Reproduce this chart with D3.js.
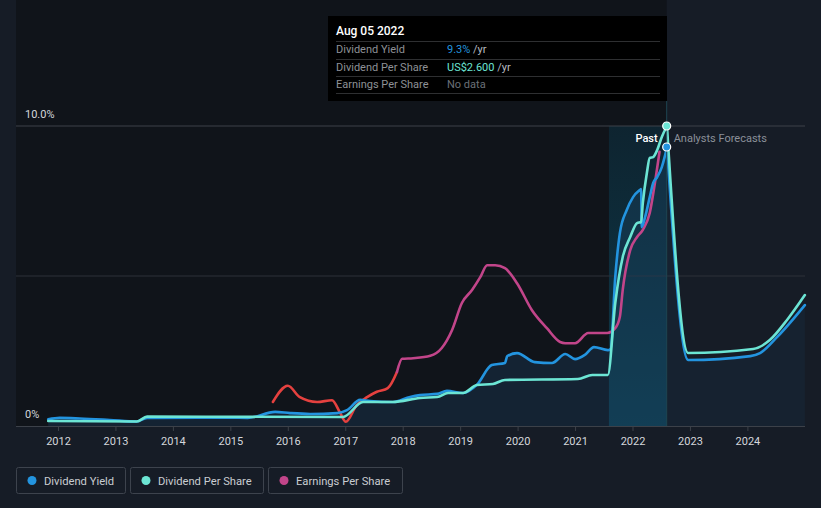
<!DOCTYPE html>
<html><head><meta charset="utf-8">
<script src="https://cdn.jsdelivr.net/npm/d3@7"></script>
<style>
html,body{margin:0;padding:0;background:#161c26;}
svg{display:block;font-family:Roboto,"Noto Sans",sans-serif;}
</style></head>
<body><svg id="c" width="821" height="508"></svg>
<script>
// ---- data (decimal years) ----
const tickYears = [2012,2013,2014,2015,2016,2017,2018,2019,2020,2021,2022,2023,2024];
const yLabels = ["0%","10.0%"];

const yieldYears = [2011.83,2012.03,2012.38,2012.9,2013.37,2013.55,2015.0,2015.3,2015.78,2016.04,2016.39,2016.86,2017.03,2017.26,2017.43,2017.83,2018.13,2018.3,2018.6,2018.77,2019.05,2019.29,2019.55,2019.78,2019.82,2019.99,2020.3,2020.6,2020.83,2021.0,2021.17,2021.33,2021.57,2021.62,2021.7,2021.78,2021.9,2022.01,2022.13,2022.15,2022.16,2022.22,2022.3,2022.36,2022.43,2022.51,2022.56,2022.6];
const yieldValues = [0.22,0.27,0.25,0.2,0.15,0.27,0.28,0.27,0.47,0.43,0.4,0.43,0.53,0.87,0.83,0.8,0.97,1.03,1.07,1.17,1.1,1.37,2.03,2.1,2.33,2.43,2.13,2.1,2.4,2.23,2.37,2.63,2.53,2.57,4.97,6.43,7.2,7.63,7.87,7.9,6.63,6.97,7.63,8.1,8.3,8.63,8.97,9.3];
const yieldFcYears = [2022.6,2022.97,2024.05,2024.22,2024.52,2025.0];
const yieldFcValues = [9.3,2.2,2.33,2.43,2.97,4.03];

const dpsYears = [2011.83,2013.37,2013.55,2016.96,2017.31,2017.83,2018.3,2018.6,2018.79,2019.05,2019.29,2019.57,2019.78,2021.05,2021.3,2021.57,2021.7,2021.83,2021.96,2022.08,2022.15,2022.18,2022.25,2022.3,2022.36,2022.43,2022.51,2022.6];
const dpsValues = [0.043,0.039,0.081,0.078,0.208,0.208,0.243,0.251,0.286,0.286,0.355,0.364,0.399,0.407,0.442,0.442,1.066,1.465,1.638,1.759,1.768,1.933,2.193,2.323,2.331,2.392,2.505,2.6];
const dpsFcYears = [2022.6,2022.97,2024.1,2024.39,2024.69,2025.0];
const dpsFcValues = [2.6,0.633,0.667,0.745,0.919,1.135];

const epsYears = [2015.74,2016.0,2016.21,2016.51,2016.77,2016.91,2017.01,2017.2,2017.38,2017.55,2017.74,2017.9,2017.99,2018.18,2018.48,2018.68,2018.86,2019.03,2019.21,2019.35,2019.47,2019.61,2019.78,2019.99,2020.25,2020.51,2020.74,2020.83,2021.0,2021.23,2021.56,2021.7,2021.78,2021.83,2021.96,2022.08,2022.18,2022.3,2022.39,2022.47];
const epsValues = [0.4,0.67,0.48,0.4,0.43,0.22,0.07,0.35,0.48,0.57,0.63,0.9,1.12,1.13,1.17,1.3,1.6,2.05,2.27,2.48,2.68,2.68,2.63,2.38,1.93,1.63,1.4,1.38,1.38,1.55,1.55,1.63,1.82,2.27,2.93,3.15,3.27,3.55,4.05,4.57];
const epsRedUntil = 2017.9;

const hoverYear = 2022.595;
const bandStart = 2021.59;

const legendItems = [
  {name:"Dividend Yield", color:"#2394df"},
  {name:"Dividend Per Share", color:"#6ce5d4"},
  {name:"Earnings Per Share", color:"#c2458a"}
];
const tooltipRows = [
  {label:"Dividend Yield", value:"9.3%", unit:" /yr", color:"#2394df"},
  {label:"Dividend Per Share", value:"US$2.600", unit:" /yr", color:"#6ce5d4"},
  {label:"Earnings Per Share", value:"No data", unit:"", color:"#6b7078"}
];

// ---- chart ----
const svg = d3.select("#c");
const L = 16, R = 805, T = 126, B = 426;
const x = d3.scaleLinear().domain([2012, 2024]).range([58, 747.4]);
const yY = d3.scaleLinear().domain([0, 10]).range([B, T]);
const yD = d3.scaleLinear().domain([0, 2.6]).range([B, T]);
const yE = d3.scaleLinear().domain([0, 5]).range([B, T]);

svg.append("rect").attr("width",821).attr("height",508).attr("fill","#161c26");
// dimmed past area
svg.append("rect").attr("x",L).attr("y",0).attr("width",x(hoverYear)-L).attr("height",B).attr("fill","#10141a");

// band gradient
const defs = svg.append("defs");
const g1 = defs.append("linearGradient").attr("id","band").attr("x1",0).attr("y1",0).attr("x2",0).attr("y2",1);
g1.append("stop").attr("offset","0%").attr("stop-color","#0e2430");
g1.append("stop").attr("offset","100%").attr("stop-color","#0d3a4b");
svg.append("rect").attr("x",x(bandStart)).attr("y",T).attr("width",x(hoverYear)-x(bandStart)).attr("height",B-T).attr("fill","url(#band)");

// grid
[5,10].forEach(v=>{
  svg.append("line").attr("x1",L).attr("x2",R).attr("y1",yY(v)).attr("y2",yY(v))
    .attr("stroke", v===10?"#3c4149":"#2c3139").attr("stroke-width",1);
});

// area under yield
const pastPts = yieldYears.map((d,i)=>[d,yieldValues[i]]);
const fcPts = yieldFcYears.map((d,i)=>[d,yieldFcValues[i]]);
const area = d3.area().x(d=>x(d[0])).y0(B).y1(d=>yY(d[1])).curve(d3.curveMonotoneX);
svg.append("path").attr("d",area(pastPts)).attr("fill","#1e4a6e").attr("opacity",0.3);
svg.append("path").attr("d",area(fcPts)).attr("fill","#1e4a6e").attr("opacity",0.15);

// x axis
const ax = svg.append("g").attr("transform",`translate(0,${B})`)
  .call(d3.axisBottom(x).tickValues(tickYears).tickFormat(d3.format("d")).tickSize(5).tickPadding(6));
ax.select(".domain").remove();
ax.selectAll(".tick line").attr("stroke","#3c4149");
ax.selectAll(".tick text").attr("fill","#d4d7dc").attr("font-size",11).attr("font-family","Roboto");
svg.append("line").attr("x1",L).attr("x2",R).attr("y1",B+0.5).attr("y2",B+0.5).attr("stroke","#3c4149");

// y labels
svg.append("text").attr("x",25).attr("y",yY(0)-8).attr("fill","#d4d7dc").attr("font-size",11).text(yLabels[0]);
svg.append("text").attr("x",25).attr("y",yY(10)-8).attr("fill","#d4d7dc").attr("font-size",11).text(yLabels[1]);

// lines
const line = (ys)=>d3.line().x(d=>x(d[0])).y(d=>ys(d[1])).curve(d3.curveMonotoneX);
function draw(pts, ys, color){
  svg.append("path").attr("d",line(ys)(pts)).attr("fill","none").attr("stroke",color)
    .attr("stroke-width",2.6).attr("stroke-linejoin","round").attr("stroke-linecap","round");
}
const epsPts = epsYears.map((d,i)=>[d,epsValues[i]]);
draw(epsPts.filter(d=>d[0]<=epsRedUntil), yE, "#e5413f");
draw(epsPts.filter(d=>d[0]>=epsRedUntil), yE, "#c2458a");
draw(pastPts, yY, "#2394df");
draw(fcPts, yY, "#2394df");
const dpsPts = dpsYears.map((d,i)=>[d,dpsValues[i]]);
const dpsFc = dpsFcYears.map((d,i)=>[d,dpsFcValues[i]]);
draw(dpsPts, yD, "#6ce5d4");
draw(dpsFc, yD, "#6ce5d4");

// hover line
svg.append("line").attr("x1",x(hoverYear)).attr("x2",x(hoverYear)).attr("y1",101).attr("y2",B)
  .attr("stroke","#1f4652").attr("stroke-width",1);

// Past / forecasts labels
svg.append("text").attr("x",x(hoverYear)-9).attr("y",142).attr("text-anchor","end")
  .attr("fill","#ffffff").attr("font-size",11).attr("font-weight",500).text("Past");
svg.append("text").attr("x",x(hoverYear)+7).attr("y",142)
  .attr("fill","#8b9099").attr("font-size",11).text("Analysts Forecasts");

// hover dots
svg.append("circle").attr("cx",x(hoverYear)).attr("cy",yD(2.6)).attr("r",4).attr("fill","#6ce5d4").attr("stroke","#fff").attr("stroke-width",1.2);
svg.append("circle").attr("cx",x(hoverYear)).attr("cy",yY(9.3)).attr("r",4).attr("fill","#2394df").attr("stroke","#fff").attr("stroke-width",1.2);

// tooltip
const tt = svg.append("g");
tt.append("rect").attr("x",328).attr("y",16).attr("width",339).attr("height",85).attr("fill","#000");
tt.append("text").attr("x",336).attr("y",35).attr("fill","#fff").attr("font-size",12).attr("font-weight",500).text("Aug 05 2022");
[41,59,76,93].forEach(yy=>tt.append("line").attr("x1",336).attr("x2",660).attr("y1",yy+0.5).attr("y2",yy+0.5).attr("stroke","#2e2f31"));
tooltipRows.forEach((r,i)=>{
  const yy = 53 + i*17.7;
  tt.append("text").attr("x",336).attr("y",yy).attr("fill","#8e9196").attr("font-size",11).text(r.label);
  const t = tt.append("text").attr("x",447).attr("y",yy).attr("font-size",11);
  t.append("tspan").attr("fill",r.color).text(r.value);
  t.append("tspan").attr("fill","#b8bbc0").text(r.unit);
});

// legend
const boxX = [16,130,268], boxW = [109,133,134];
legendItems.forEach((it,i)=>{
  const lx = boxX[i];
  const g = svg.append("g");
  g.append("rect").attr("x",lx+0.5).attr("y",467.5).attr("width",boxW[i]).attr("height",26).attr("rx",2)
    .attr("fill","none").attr("stroke","#3d434d");
  g.append("circle").attr("cx",lx+16).attr("cy",480.5).attr("r",4.5).attr("fill",it.color);
  g.append("text").attr("x",lx+28).attr("y",484.5).attr("fill","#c9ccd1").attr("font-size",11.2).text(it.name);
});
</script></body></html>
